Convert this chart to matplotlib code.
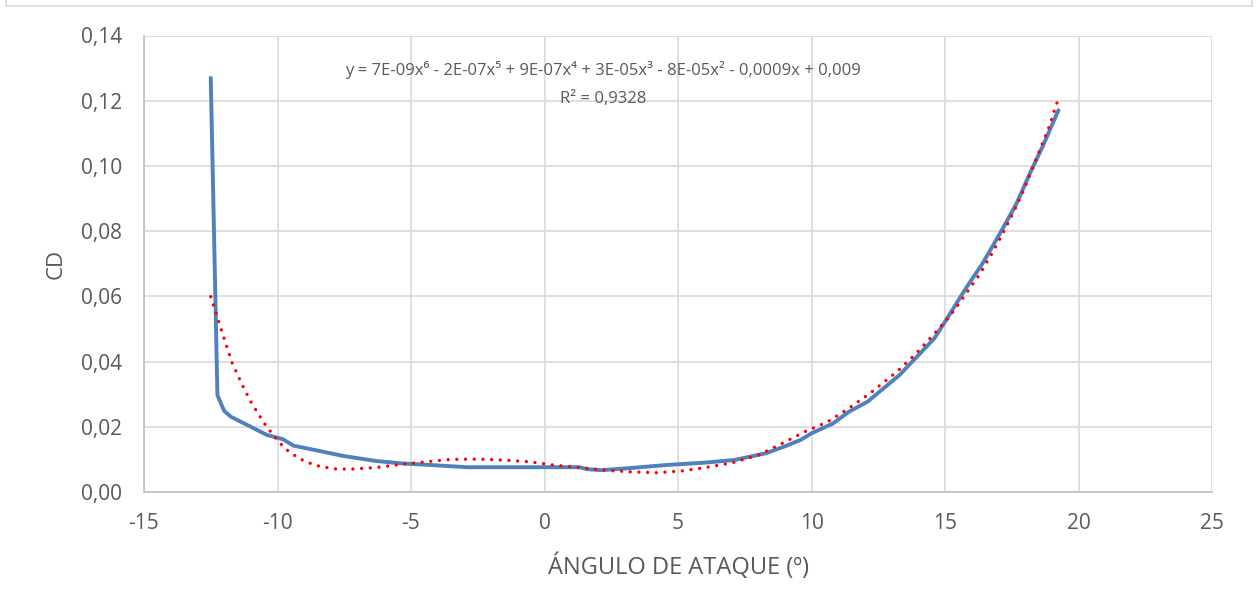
import matplotlib
matplotlib.use("Agg")
import matplotlib.pyplot as plt
from matplotlib.lines import Line2D

# CD medido (serie azul)
angulo = [-12.5, -12.25, -12.0, -11.75, -11.0, -10.4, -9.8, -9.4, -8.5, -7.5,
          -6.3, -5.4, -4.3, -2.9, 0.0, 1.3, 1.6, 2.1, 3.0, 4.6,
          6.0, 7.1, 8.3, 9.0, 9.6, 10.0, 10.8, 11.4, 12.1, 13.3,
          14.6, 15.0, 15.8, 16.4, 17.06, 17.68, 18.18, 18.68, 19.25]
cd = [0.127, 0.0297, 0.0249, 0.0231, 0.0200, 0.0175, 0.0162, 0.0142, 0.0127, 0.0110,
      0.0095, 0.0088, 0.0083, 0.0076, 0.0076, 0.0076, 0.0070, 0.0067, 0.0072, 0.0083,
      0.0090, 0.0098, 0.0119, 0.0140, 0.0160, 0.0180, 0.0210, 0.0246, 0.0277, 0.0359,
      0.0471, 0.0522, 0.0627, 0.0700, 0.0793, 0.0885, 0.0977, 0.1064, 0.1171]

# linea de tendencia polinomica
tend_x = [-12.5, -12.4, -12.2, -12.0, -11.7, -11.3, -11.0, -10.5, -10.1, -9.7,
          -9.2, -8.6, -7.9, -7.3, -6.3, -5.35, -4.4, -3.5, -2.5, -1.55,
          -0.6, 0.4, 1.3, 2.25, 3.2, 4.2, 5.2, 6.1, 7.05, 8.0,
          8.9, 9.75, 10.6, 11.4, 12.2, 13.2, 13.9, 14.55, 15.2, 15.75,
          16.3, 16.8, 17.1, 17.55, 17.95, 18.3, 18.65, 18.9, 19.1, 19.2]
tend_y = [0.0599, 0.0573, 0.0522, 0.0471, 0.0396, 0.0325, 0.0277, 0.0211, 0.0168, 0.0132,
          0.0103, 0.0082, 0.0071, 0.0070, 0.0075, 0.0085, 0.0093, 0.0100, 0.0101, 0.0098,
          0.0093, 0.0082, 0.0075, 0.0067, 0.0062, 0.0059, 0.0065, 0.0076, 0.0090, 0.0113,
          0.0149, 0.0185, 0.0215, 0.0257, 0.0303, 0.0369, 0.0423, 0.0481, 0.0541, 0.0604,
          0.0668, 0.0737, 0.0783, 0.0855, 0.0926, 0.0998, 0.1069, 0.1120, 0.1171, 0.1195]

ecuacion = "y = 7E-09x⁶ - 2E-07x⁵ + 9E-07x⁴ + 3E-05x³ - 8E-05x² - 0,0009x + 0,009"
r2 = "R² = 0,9328"

plt.rcParams['font.family'] = ['Open Sans', 'DejaVu Sans']
plt.rcParams['axes.unicode_minus'] = False
gris = '#595959'

W, H = 1259, 606
fig = plt.figure(figsize=(W / 100, H / 100), dpi=100)
ax = fig.add_axes([144 / W, 1 - 492 / H, (1212 - 144) / W, (492 - 35.5) / H])

# borde exterior del area del grafico
for xs, ys in [((6, 6), (0, 6)), ((6, 1252), (6, 6)), ((1252, 1252), (6, 0))]:
    fig.add_artist(Line2D([x / W for x in xs], [1 - y / H for y in ys],
                          color='#d9d9d9', lw=1.2, transform=fig.transFigure))

ax.plot(angulo, cd, color='#4f81bd', lw=2.8, solid_joinstyle='round',
        solid_capstyle='round', zorder=3)
ax.plot(tend_x, tend_y, color='#ff0000', lw=2.4, linestyle=(0, (0.01, 2.6)),
        dash_capstyle='round', zorder=4)

ax.set_xlim(-15, 25)
ax.set_ylim(0, 0.14)
ax.set_xticks(range(-15, 26, 5))
ax.set_yticks([i * 0.02 for i in range(8)])
ax.set_yticklabels([f"{i * 0.02:.2f}".replace('.', ',') for i in range(8)])

ax.grid(True, color='#d9d9d9', lw=1.2)
ax.set_axisbelow(True)
for s in ['top', 'right']:
    ax.spines[s].set_visible(False)
for s in ['left', 'bottom']:
    ax.spines[s].set_color('#bfbfbf')
    ax.spines[s].set_linewidth(1.2)
ax.tick_params(length=0, labelsize=15, colors=gris)
ax.tick_params(axis='y', pad=16)
ax.tick_params(axis='x', pad=15)

ax.set_xlabel("ÁNGULO DE ATAQUE (º)", fontsize=17, color=gris, labelpad=14)
ax.set_ylabel("CD", fontsize=16, color=gris, labelpad=10)

ax.text(2.2, 0.1295, ecuacion, fontsize=12, color=gris, ha='center', va='center')
ax.text(2.2, 0.1205, r2, fontsize=12, color=gris, ha='center', va='center')

fig.savefig("out.png", dpi=100, facecolor='white')
